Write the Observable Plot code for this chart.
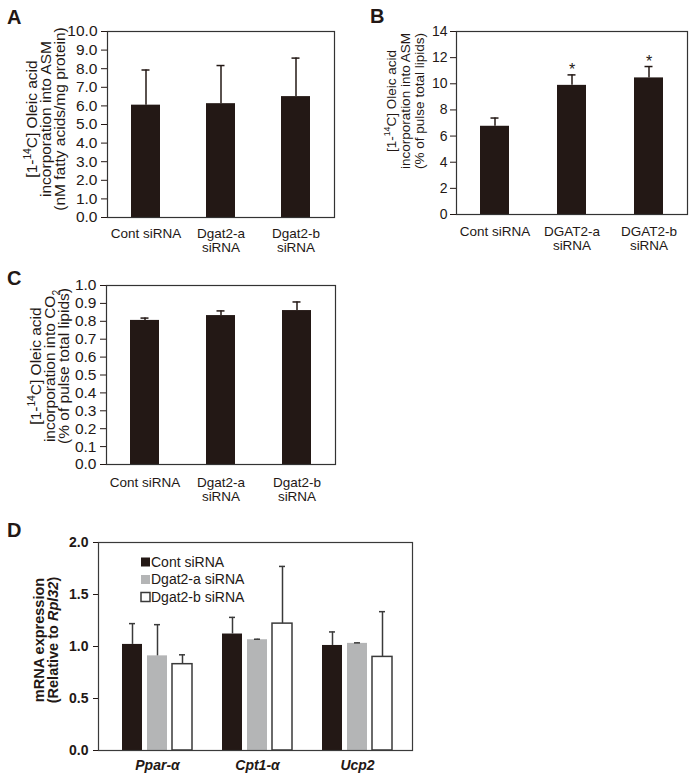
<!DOCTYPE html>
<html>
<head>
<meta charset="utf-8">
<script src="https://cdn.jsdelivr.net/npm/d3@7"></script>
<script src="https://cdn.jsdelivr.net/npm/@observablehq/plot@0.6"></script>
<style>
  body { margin: 0; background: #ffffff; }
  #fig { position: relative; width: 689px; height: 780px; overflow: hidden; background: #ffffff; }
  .panel { position: absolute; }
  .panel svg { display: block; overflow: visible; }
</style>
</head>
<body>
<div id="fig"></div>
<script>
// ---------------- DATA ----------------
// Panel A
const catsA = ["Cont siRNA", "Dgat2-a siRNA", "Dgat2-b siRNA"];
const tickLabelsA = ["Cont siRNA", "Dgat2-a\nsiRNA", "Dgat2-b\nsiRNA"];
const meanA = [6.04, 6.12, 6.50];
const upperA = [7.93, 8.17, 8.57];
const yTicksA = [0, 1, 2, 3, 4, 5, 6, 7, 8, 9, 10];
const yLabelA = [["[1-", {t: "14", sup: true}, "C] Oleic acid"], ["incorporation into ASM"], ["(nM fatty acids/mg protein)"]];

// Panel B
const catsB = ["Cont siRNA", "DGAT2-a siRNA", "DGAT2-b siRNA"];
const tickLabelsB = ["Cont siRNA", "DGAT2-a\nsiRNA", "DGAT2-b\nsiRNA"];
const meanB = [6.75, 9.88, 10.45];
const upperB = [7.38, 10.68, 11.32];
const sigB = ["", "*", "*"];
const yTicksB = [0, 2, 4, 6, 8, 10, 12, 14];
const yLabelB = [["[1-", {t: "14", sup: true}, "C] Oleic acid"], ["incorporation into ASM"], ["(% of pulse total lipids)"]];

// Panel C
const catsC = ["Cont siRNA", "Dgat2-a siRNA", "Dgat2-b siRNA"];
const tickLabelsC = ["Cont siRNA", "Dgat2-a\nsiRNA", "Dgat2-b\nsiRNA"];
const meanC = [0.805, 0.832, 0.860];
const upperC = [0.818, 0.858, 0.908];
const yTicksC = [0, 0.1, 0.2, 0.3, 0.4, 0.5, 0.6, 0.7, 0.8, 0.9, 1.0];
const yLabelC = [["[1-", {t: "14", sup: true}, "C] Oleic acid"], ["incorporation into CO", {t: "2", sub: true}], ["(% of pulse total lipids)"]];

// Panel D
const genesD = ["Ppar-α", "Cpt1-α", "Ucp2"];
const seriesD = ["Cont siRNA", "Dgat2-a siRNA", "Dgat2-b siRNA"];
const colorsD = ["#231815", "#b4b5b6", "#ffffff"];
const contD = [1.02, 1.12, 1.01];
const dgatAD = [0.91, 1.065, 1.03];
const dgatBD = [0.83, 1.22, 0.90];
const contUpperD = [1.22, 1.28, 1.14];
const dgatAUpperD = [1.21, 1.07, 1.035];
const dgatBUpperD = [0.92, 1.77, 1.335];
const yTicksD = [0, 0.5, 1.0, 1.5, 2.0];
const yLabelD = [["mRNA expression"], ["(Relative to ", {t: "Rpl32", it: true}, ")"]];

// ---------------- HELPERS ----------------
const INK = "#231815";
const FONT = "'Liberation Sans', Arial, Helvetica, sans-serif";
const fig = document.getElementById("fig");

function place(node, left, top) {
  const d = document.createElement("div");
  d.className = "panel";
  d.style.left = left + "px";
  d.style.top = top + "px";
  d.appendChild(node);
  fig.appendChild(d);
}

function addYLabel(svg, lines, xs, cy, size, weight) {
  const g = d3.select(svg).append("g")
    .attr("fill", INK).style("font-size", size + "px")
    .style("font-weight", weight || "normal").style("font-family", FONT);
  lines.forEach((segs, i) => {
    const t = g.append("text")
      .attr("text-anchor", "middle")
      .attr("transform", `translate(${xs[i]},${cy}) rotate(-90)`)
      .attr("dy", "0.35em");
    let shift = 0;
    segs.forEach(s => {
      const seg = typeof s === "string" ? {t: s} : s;
      const target = seg.sup ? -0.42 * size : seg.sub ? 0.28 * size : 0;
      const ts = t.append("tspan").text(seg.t);
      if (target !== shift) { ts.attr("dy", target - shift); shift = target; }
      if (seg.sup || seg.sub) ts.style("font-size", (size * 0.66) + "px");
      if (seg.it) ts.style("font-style", "italic");
    });
  });
}

function addTag(svg, letter, x, y) {
  d3.select(svg).append("text")
    .attr("x", x).attr("y", y).attr("text-anchor", "start")
    .style("font-family", FONT).style("font-weight", "bold").style("font-size", "20px")
    .attr("fill", INK).text(letter);
}

function simplePanel(cfg) {
  const rows = cfg.cats.map((c, i) => ({
    cat: c, label: cfg.labels[i], value: cfg.mean[i], upper: cfg.upper[i],
    sig: cfg.sig ? cfg.sig[i] : ""
  }));
  const labelOf = new Map(rows.map(d => [d.cat, d.label]));
  return Plot.plot({
    width: cfg.width, height: cfg.height,
    marginLeft: cfg.ml, marginRight: cfg.mr, marginTop: cfg.mt, marginBottom: cfg.mb,
    style: {fontFamily: FONT, fontSize: "14px", color: INK, background: "none"},
    x: {domain: cfg.cats, paddingInner: cfg.pi, paddingOuter: cfg.pi / 2},
    y: {domain: cfg.yDomain},
    marks: [
      Plot.barY(rows, {x: "cat", y: "value", fill: INK}),
      Plot.ruleX(rows, {x: "cat", y1: "value", y2: "upper", stroke: INK, strokeWidth: 1.5}),
      Plot.tickY(rows, {x: "cat", y: "upper", stroke: INK, strokeWidth: 1.5, insetLeft: cfg.cap, insetRight: cfg.cap}),
      Plot.text(rows.filter(d => d.sig), {x: "cat", y: "upper", text: "sig", dy: -5, fontSize: 16, fill: INK}),
      Plot.frame({stroke: "#333333", strokeWidth: 1.2}),
      Plot.axisY(cfg.yTicks, {tickFormat: cfg.yFormat, tickSize: 6, tickPadding: cfg.yPad, fontSize: cfg.yFont, label: null}),
      Plot.axisX(cfg.cats, {tickSize: 0, tickPadding: cfg.xPad, tickFormat: c => labelOf.get(c), fontSize: 13.5, lineHeight: 1.05, label: null})
    ]
  });
}

// ---------------- PANEL A ----------------
const svgA = simplePanel({
  cats: catsA, labels: tickLabelsA, mean: meanA, upper: upperA,
  width: 345, height: 265, ml: 107, mr: 11, mt: 31, mb: 48,
  pi: 0.617, cap: 10.5, yDomain: [0, 10], yTicks: yTicksA, yFormat: d3.format(".1f"),
  yFont: 15.5, yPad: 4, xPad: 10
});
addYLabel(svgA, yLabelA, [32, 46, 60], 119, 15.5);
addTag(svgA, "A", 7, 24);
place(svgA, 0, 0);

// ---------------- PANEL B ----------------
const svgB = simplePanel({
  cats: catsB, labels: tickLabelsB, mean: meanB, upper: upperB, sig: sigB,
  width: 344, height: 265, ml: 111, mr: 2, mt: 31, mb: 51,
  pi: 0.62, cap: 10.5, yDomain: [0, 14], yTicks: yTicksB, yFormat: d3.format("d"),
  yFont: 14, yPad: 3, xPad: 11
});
addYLabel(svgB, yLabelB, [46, 60, 74], 101, 13.5);
addTag(svgB, "B", 25, 23);
place(svgB, 345, 0);

// ---------------- PANEL C ----------------
const svgC = simplePanel({
  cats: catsC, labels: tickLabelsC, mean: meanC, upper: upperC,
  width: 345, height: 240, ml: 106, mr: 10, mt: 15, mb: 46,
  pi: 0.616, cap: 10.5, yDomain: [0, 1], yTicks: yTicksC, yFormat: d3.format(".1f"),
  yFont: 15.5, yPad: 4, xPad: 12
});
addYLabel(svgC, yLabelC, [36, 50, 64], 96, 15.5);
addTag(svgC, "C", 7, 15);
place(svgC, 0, 270);

// ---------------- PANEL D ----------------
const meansD = [contD, dgatAD, dgatBD];
const uppersD = [contUpperD, dgatAUpperD, dgatBUpperD];
const rowsD = [];
genesD.forEach((g, gi) => seriesD.forEach((s, si) => rowsD.push({
  gene: g, series: s, key: g + "|" + s, value: meansD[si][gi], upper: uppersD[si][gi]
})));
const keysD = [];
genesD.forEach((g, gi) => {
  if (gi) keysD.push("gap" + gi);
  seriesD.forEach(s => keysD.push(g + "|" + s));
});

const svgD = Plot.plot({
  width: 460, height: 260,
  marginLeft: 98, marginRight: 48, marginTop: 22, marginBottom: 30,
  style: {fontFamily: FONT, fontSize: "14px", color: INK, background: "none"},
  x: {domain: keysD, range: [112, 402], paddingInner: 0.19, paddingOuter: 0.19},
  y: {domain: [0, 2]},
  color: {domain: seriesD, range: colorsD},
  marks: [
    Plot.barY(rowsD, {x: "key", y: "value", fill: "series"}),
    Plot.barY(rowsD.filter(d => d.series === seriesD[2]), {x: "key", y: "value", fill: "none", stroke: "#3a3a3a", strokeWidth: 1.5}),
    Plot.ruleX(rowsD, {x: "key", y1: "value", y2: "upper", stroke: "#3a3a3a", strokeWidth: 1.5}),
    Plot.tickY(rowsD, {x: "key", y: "upper", stroke: "#3a3a3a", strokeWidth: 1.5, insetLeft: 7, insetRight: 7}),
    Plot.frame({stroke: "#3a3a3a", strokeWidth: 1.2}),
    Plot.axisY(yTicksD, {tickFormat: d3.format(".1f"), tickSize: 5, tickPadding: 5, fontSize: 14, fontWeight: "bold", label: null}),
    Plot.axisX(genesD.map(g => g + "|" + seriesD[1]), {tickSize: 0, tickPadding: 10, tickFormat: k => k.split("|")[0], fontSize: 14, fontWeight: "bold", fontStyle: "italic", label: null})
  ]
});
addYLabel(svgD, yLabelD, [39, 53], 120, 14.5, "bold");
addTag(svgD, "D", 7, 17);

// legend for D (inside the frame)
const legD = d3.select(svgD).append("g")
  .style("font-family", FONT).style("font-size", "14px").attr("fill", INK);
seriesD.forEach((s, i) => {
  const cy = 42 + i * 17.5;
  legD.append("rect").attr("x", 141).attr("y", cy - 4.5).attr("width", 9).attr("height", 9)
    .attr("fill", colorsD[i]).attr("stroke", i === 2 ? "#3a3a3a" : "none").attr("stroke-width", 1.5);
  legD.append("text").attr("x", 151).attr("y", cy).attr("dy", "0.35em")
    .attr("text-anchor", "start").text(s);
});
place(svgD, 0, 520);
</script>
</body>
</html>
